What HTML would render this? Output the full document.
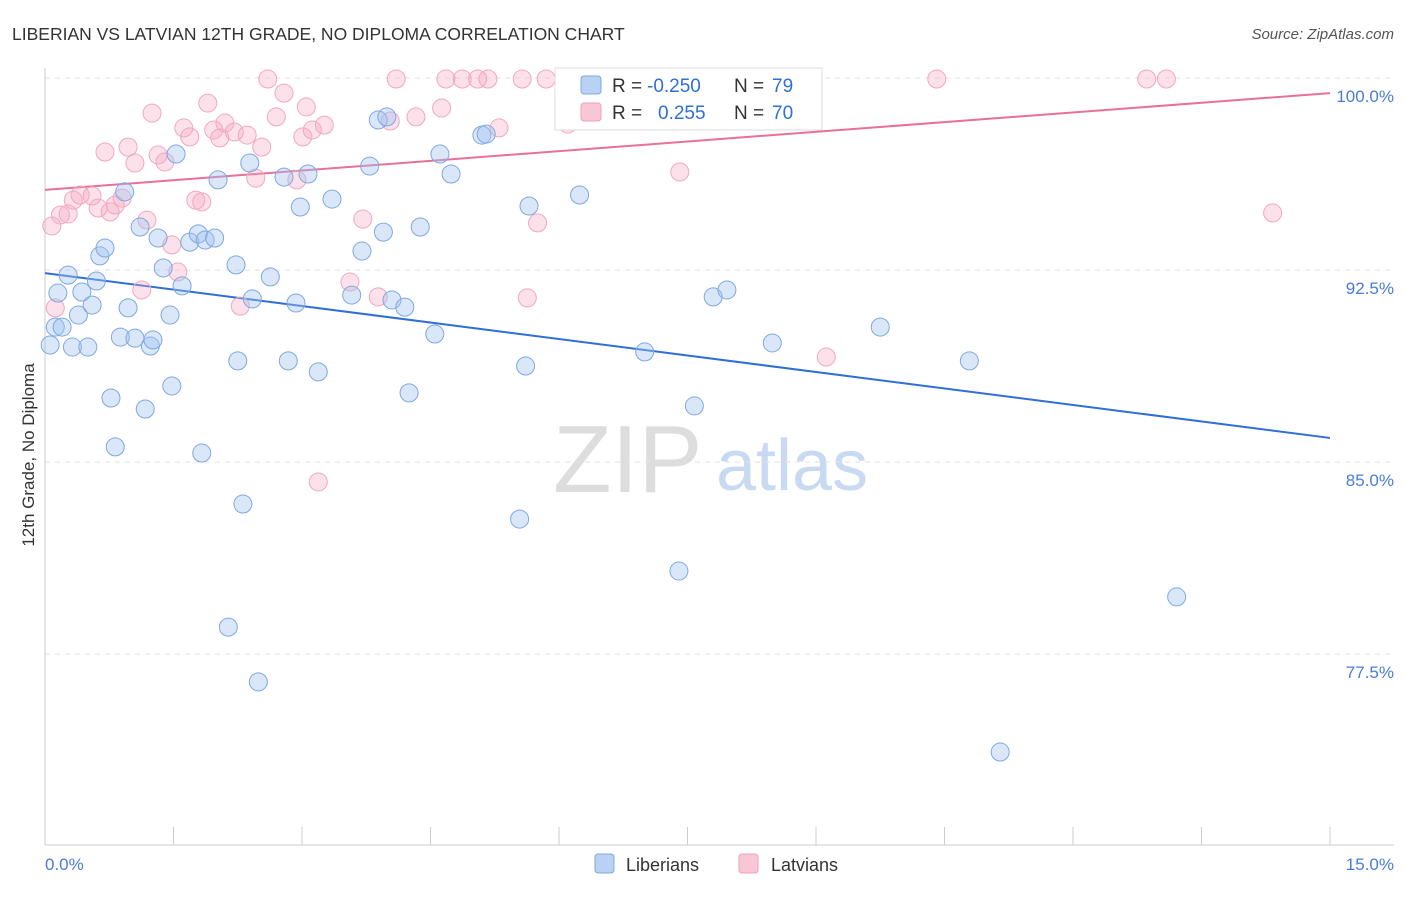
<!DOCTYPE html>
<html><head><meta charset="utf-8"><style>
body{margin:0;background:#fff;font-family:"Liberation Sans",sans-serif;}
svg text{font-family:"Liberation Sans",sans-serif;}
</style></head><body>
<svg id="chart" width="1406" height="892">
<text x="12" y="40" font-size="17.5" fill="#333">LIBERIAN VS LATVIAN 12TH GRADE, NO DIPLOMA CORRELATION CHART</text>
<text x="1394" y="39" font-size="15" fill="#555" font-style="italic" text-anchor="end">Source: ZipAtlas.com</text>
<text transform="translate(34,455) rotate(-90)" font-size="17" fill="#333" text-anchor="middle">12th Grade, No Diploma</text>
<g><text x="553" y="492" font-family="Liberation Serif,serif" font-size="96" fill="#ddd">ZIP</text><text x="716" y="490" font-size="72" fill="#c8d9f2">atlas</text></g>
<g id="grid"></g><g id="axes"></g><g id="lines"></g><g id="pts"></g>
<g>
<rect x="555" y="68" width="267" height="62" fill="#fff" stroke="#ddd"/>
<rect x="581" y="76" width="20" height="18" rx="3" fill="#b9d1f3" stroke="#7fa8e0"/>
<rect x="581" y="103" width="20" height="18" rx="3" fill="#f9c6d6" stroke="#f0a0bc"/>
<text x="612" y="92" font-size="19" fill="#333">R =</text><text x="647" y="92" font-size="19" fill="#2f6fd6">-0.250</text>
<text x="734" y="92" font-size="19" fill="#333">N =</text><text x="772" y="92" font-size="19" fill="#2f6fd6">79</text>
<text x="612" y="119" font-size="19" fill="#333">R =</text><text x="658" y="119" font-size="19" fill="#2f6fd6">0.255</text>
<text x="734" y="119" font-size="19" fill="#333">N =</text><text x="772" y="119" font-size="19" fill="#2f6fd6">70</text>
</g>
<g>
<rect x="595" y="854" width="19" height="19" rx="3" fill="#b9d1f3" stroke="#7fa8e0"/>
<text x="626" y="871" font-size="18" fill="#333">Liberians</text>
<rect x="739" y="854" width="19" height="19" rx="3" fill="#f9c6d6" stroke="#f0a0bc"/>
<text x="771" y="871" font-size="18" fill="#333">Latvians</text>
</g>
</svg>
<script>
const yTicks=[100,92.5,85,77.5];
const yTickLabels=["100.0%","92.5%","85.0%","77.5%"];
const xTickLabels=["0.0%","15.0%"];
const libX=[0.06,0.12,0.15,0.20,0.27,0.32,0.39,0.43,0.50,0.55,0.60,0.64,0.70,0.77,0.82,0.88,0.93,0.97,1.05,1.11,1.17,1.23,1.26,1.32,1.38,1.46,1.48,1.53,1.60,1.69,1.79,1.83,1.87,1.98,2.02,2.14,2.23,2.25,2.31,2.39,2.42,2.49,2.63,2.79,2.84,2.93,2.98,3.07,3.19,3.35,3.58,3.70,3.79,3.89,3.95,3.99,4.05,4.20,4.25,4.38,4.55,4.61,4.74,5.10,5.15,5.54,5.61,5.65,6.24,7.00,7.40,7.58,7.80,7.96,8.49,9.75,10.79,11.15,13.21];
const libY=[89.57,90.27,91.60,90.27,92.30,89.49,90.74,91.64,89.49,91.13,92.07,93.05,93.36,87.50,85.59,89.88,95.55,91.02,89.84,94.18,87.07,89.53,89.77,93.75,92.58,90.74,87.97,97.03,91.88,93.59,93.91,85.35,93.67,93.75,96.02,78.55,92.70,88.95,83.36,96.68,91.37,76.41,92.23,96.13,88.95,91.21,94.96,96.25,88.52,95.27,91.52,93.24,96.56,98.36,93.98,98.48,91.33,91.05,87.70,94.18,90.00,97.03,96.25,97.77,97.81,82.77,88.75,95.00,95.43,89.30,80.74,87.19,91.45,91.72,89.65,90.27,88.95,73.67,79.73];
const latX=[0.08,0.12,0.18,0.27,0.33,0.41,0.55,0.62,0.70,0.76,0.82,0.90,0.97,1.05,1.13,1.19,1.25,1.32,1.40,1.48,1.55,1.62,1.69,1.76,1.83,1.90,1.97,2.04,2.10,2.21,2.28,2.36,2.46,2.53,2.60,2.70,2.79,2.94,3.01,3.05,3.12,3.26,3.56,3.71,3.89,4.03,4.10,4.33,4.63,4.68,4.87,5.05,5.17,5.30,5.57,5.63,5.75,5.85,6.10,6.45,7.41,7.94,9.12,10.41,12.86,13.09,14.33,3.19];
const latY=[94.22,91.02,94.65,94.69,95.23,95.43,95.39,94.92,97.11,94.77,95.04,95.31,97.30,96.68,91.72,94.45,98.63,96.99,96.72,93.48,92.42,98.05,97.70,95.23,95.16,99.02,97.97,97.66,98.24,97.89,91.09,97.77,96.09,97.30,99.96,98.48,99.41,96.02,97.70,98.87,97.97,98.16,92.03,94.49,91.45,98.32,99.96,98.48,98.83,99.96,99.96,99.96,99.96,98.05,99.96,91.41,94.34,99.96,98.20,99.96,96.33,99.96,89.10,99.96,99.96,99.96,94.73,84.22];
const trendLib=[92.38,85.94];
const trendLat=[95.63,99.41];
const NS="http://www.w3.org/2000/svg";
const X=v=>45+v*(1285/15), Y=v=>78+(100-v)*25.6;
function mk(p,t,a){const e=document.createElementNS(NS,t);for(const k in a)e.setAttribute(k,a[k]);p.appendChild(e);return e;}
const g=document.getElementById('grid'),ax=document.getElementById('axes'),ln=document.getElementById('lines'),pts=document.getElementById('pts');
yTicks.forEach((v,i)=>{
 const l=mk(g,'line',{x1:45,x2:1394,y1:Y(v),y2:Y(v),stroke:'#e2e2e2','stroke-dasharray':'5,5'});
 
 
 const t=mk(g,'text',{x:1394,y:Y(v)+24,'font-size':17,fill:'#4a7cd6','text-anchor':'end'});t.textContent=yTickLabels[i];
 
 
});
mk(ax,'line',{x1:45,x2:45,y1:68,y2:845,stroke:'#ccc'});
mk(ax,'line',{x1:45,x2:1394,y1:845,y2:845,stroke:'#ccc'});
for(let i=0;i<=10;i++){const x=X(i*1.5);const tk=mk(ax,'line',{x1:x,x2:x,y1:827,y2:845,stroke:'#ccc'});
 
 }
const t0=mk(ax,'text',{x:45,y:870,'font-size':17,fill:'#4a7cd6'});t0.textContent=xTickLabels[0];


const t1=mk(ax,'text',{x:1394,y:870,'font-size':17,fill:'#4a7cd6','text-anchor':'end'});t1.textContent=xTickLabels[1];


latX.forEach((x,i)=>{const c=mk(pts,'circle',{cx:X(x),cy:Y(latY[i]),r:9,fill:'rgba(245,170,195,0.35)',stroke:'#f0a8c0','stroke-width':1});
 
 });
libX.forEach((x,i)=>{const c=mk(pts,'circle',{cx:X(x),cy:Y(libY[i]),r:9,fill:'rgba(160,195,240,0.4)',stroke:'#7fa8e0','stroke-width':1});
 
 });
const l1=mk(ln,'line',{x1:X(0),y1:Y(trendLib[0]),x2:X(15),y2:Y(trendLib[1]),stroke:'#2f6fd6','stroke-width':2});


const l2=mk(ln,'line',{x1:X(0),y1:Y(trendLat[0]),x2:X(15),y2:Y(trendLat[1]),stroke:'#e8709a','stroke-width':2});


</script>
</body></html>
